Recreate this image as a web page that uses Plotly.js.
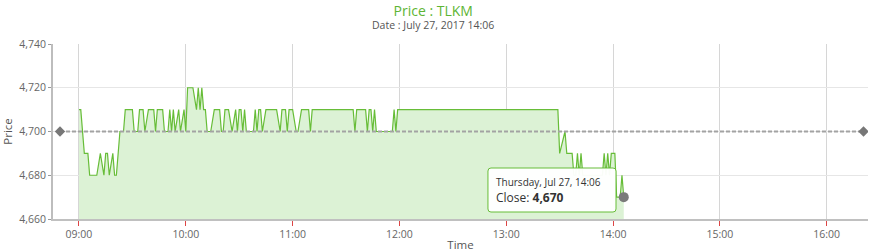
<!DOCTYPE html>
<html>
<head>
<meta charset="utf-8">
<script src="https://cdn.plot.ly/plotly-3.0.1.min.js"></script>
<style>
  html, body { margin: 0; padding: 0; background: #fff; }
  #chart { width: 869px; height: 252px; }
</style>
</head>
<body>
<div id="chart"></div>
<script>
// ---- data ----
const tradeDate = '2017-07-27';
const times = [
  '09:00','09:01','09:03','09:05','09:06','09:10','09:12','09:14','09:15','09:16',
  '09:17','09:19','09:20','09:21','09:23','09:25','09:26','09:30','09:31','09:33',
  '09:34','09:36','09:37','09:39','09:42','09:43','09:44','09:47','09:48','09:50',
  '09:51','09:52','09:53','09:54','09:56','09:57','09:59','10:00','10:01','10:04',
  '10:06','10:07','10:08','10:09','10:10','10:11','10:12','10:14','10:16','10:19',
  '10:20','10:21','10:22','10:24','10:26','10:28','10:29','10:30','10:31','10:32',
  '10:33','10:34','10:38','10:39','10:40','10:41','10:42','10:43','10:45','10:51',
  '10:53','10:54','10:56','10:57','10:58','11:00','11:02','11:03','11:05','11:09',
  '11:10','11:11','11:34','11:35','11:36','11:41','11:42','11:43','11:44','11:45',
  '11:46','11:47','11:56','11:57','11:58','11:59','12:00',
  '13:29','13:30','13:33','13:34','13:37','13:38','13:39','13:40','13:41','13:42',
  '13:43','13:54','13:55','13:56','13:57','13:58','13:59','14:01','14:02','14:04',
  '14:05','14:06'
];
const prices = [
  4710,4710,4690,4690,4680,4680,4690,4680,4690,4690,
  4680,4690,4680,4680,4700,4700,4710,4710,4700,4700,
  4710,4710,4700,4710,4710,4700,4710,4710,4700,4700,
  4710,4700,4710,4700,4710,4700,4710,4700,4720,4720,
  4710,4720,4710,4720,4710,4710,4700,4700,4710,4710,
  4700,4700,4710,4710,4700,4710,4700,4710,4710,4700,
  4710,4700,4700,4710,4700,4710,4710,4700,4710,4710,
  4700,4710,4710,4700,4710,4710,4700,4700,4710,4710,
  4700,4710,4710,4700,4710,4710,4700,4710,4710,4700,
  4710,4700,4700,4710,4700,4710,4710,
  4710,4690,4700,4690,4690,4680,4680,4690,4680,4690,
  4680,4680,4690,4680,4690,4680,4690,4690,4670,4670,
  4680,4670
];
const prevCloseTimes = ['08:49:20', '16:20:40'];
const prevClose = 4700;
const yTicks = [4660, 4680, 4700, 4720, 4740];

// ---- build ----
const full = t => tradeDate + ' ' + t;
const xs = times.map(full);
const lastX = xs[xs.length - 1];
const lastY = prices[prices.length - 1];

const fontFam = '"Open Sans", "Noto Sans", sans-serif';
const green = '#67bd38';

const traces = [
  {
    type: 'scatter', mode: 'lines', x: xs, y: prices,
    line: { color: green, width: 1.2, shape: 'linear' },
    fill: 'tozeroy', fillcolor: '#dcf2d5',
    hoverinfo: 'skip', name: 'Close'
  },
  {
    type: 'scatter', mode: 'lines+markers',
    x: prevCloseTimes.map(full), y: prevCloseTimes.map(() => prevClose),
    line: { color: '#a3a3a3', width: 2, dash: '4px,2px' },
    marker: { symbol: 'diamond', size: 8, color: '#777' },
    hoverinfo: 'skip', name: 'Prev close'
  },
  {
    type: 'scatter', mode: 'markers', x: [lastX], y: [lastY],
    marker: { size: 10, color: '#7a7a7a' },
    hoverinfo: 'skip', name: 'Last'
  }
];

// tooltip box geometry (paper coords)
const bx0 = 0.5337, bx1 = 0.6908, by0 = 0.04, by1 = 0.2914;
const rx = 3 / 815, ry = 3 / 175;
const boxPath = 'M ' + (bx0 + rx) + ',' + by1 +
  ' L ' + (bx1 - rx) + ',' + by1 + ' Q ' + bx1 + ',' + by1 + ' ' + bx1 + ',' + (by1 - ry) +
  ' L ' + bx1 + ',' + (by0 + ry) + ' Q ' + bx1 + ',' + by0 + ' ' + (bx1 - rx) + ',' + by0 +
  ' L ' + (bx0 + rx) + ',' + by0 + ' Q ' + bx0 + ',' + by0 + ' ' + bx0 + ',' + (by0 + ry) +
  ' L ' + bx0 + ',' + (by1 - ry) + ' Q ' + bx0 + ',' + by1 + ' ' + (bx0 + rx) + ',' + by1 + ' Z';

const tipDate = 'Thursday, Jul 27, ' + times[times.length - 1];

const layout = {
  width: 869, height: 252,
  margin: { l: 53, r: 1, t: 44, b: 33 },
  paper_bgcolor: '#fff', plot_bgcolor: '#fff',
  showlegend: false,
  font: { family: fontFam, color: '#666', size: 10.5 },
  title: {
    text: 'Price : TLKM',
    font: { family: fontFam, size: 14, color: '#5db534' },
    x: 0.4985, xref: 'container', xanchor: 'center',
    y: 1 - 11 / 252, yref: 'container', yanchor: 'middle'
  },
  xaxis: {
    type: 'date',
    range: [full('08:45:24'), full('16:23:12')],
    tick0: full('09:00'), dtick: 3600000, tickformat: '%H:%M',
    showgrid: true, gridcolor: '#d6d6d6', gridwidth: 1,
    showline: true, linecolor: '#c0c0c0', linewidth: 1.5,
    ticks: 'outside', ticklen: 5, tickcolor: '#d44', tickwidth: 1,
    tickfont: { family: fontFam, size: 10.5, color: '#666' },
    zeroline: false,
    title: { text: 'Time', font: { family: fontFam, size: 11.5, color: '#555' }, standoff: 4 }
  },
  yaxis: {
    range: [4660, 4740],
    tickvals: yTicks, tickformat: ',d',
    showgrid: true, gridcolor: '#e6e6e6', gridwidth: 1,
    showline: true, linecolor: '#bdbdbd', linewidth: 2,
    ticks: 'outside', ticklen: 3, tickcolor: '#999', tickwidth: 1,
    tickfont: { family: fontFam, size: 10.5, color: '#666' },
    zeroline: false,
    title: { text: 'Price', font: { family: fontFam, size: 11.5, color: '#555' }, standoff: 4 }
  },
  shapes: [
    {
      type: 'path', xref: 'paper', yref: 'paper', path: boxPath,
      fillcolor: 'rgba(255,255,255,0.96)', line: { color: green, width: 1 },
      layer: 'above'
    }
  ],
  annotations: [
    {
      xref: 'paper', yref: 'paper', x: 0.4663, y: (219 - 25) / 175,
      xanchor: 'center', yanchor: 'middle', showarrow: false,
      text: 'Date : July 27, 2017 14:06',
      font: { family: fontFam, size: 10.5, color: '#555' }
    },
    {
      xref: 'paper', yref: 'paper', x: 0.5420, y: (219 - 182.3) / 175,
      xanchor: 'left', yanchor: 'middle', showarrow: false, borderpad: 0,
      text: tipDate,
      font: { family: fontFam, size: 10, color: '#333' }
    },
    {
      xref: 'paper', yref: 'paper', x: 0.5420, y: (219 - 197.5) / 175,
      xanchor: 'left', yanchor: 'middle', showarrow: false, borderpad: 0,
      text: 'Close: <b>' + lastY.toLocaleString('en-US') + '</b>',
      font: { family: fontFam, size: 12, color: '#333' }
    }
  ]
};

Plotly.newPlot('chart', traces, layout, { displayModeBar: false, staticPlot: true });
</script>
</body>
</html>
